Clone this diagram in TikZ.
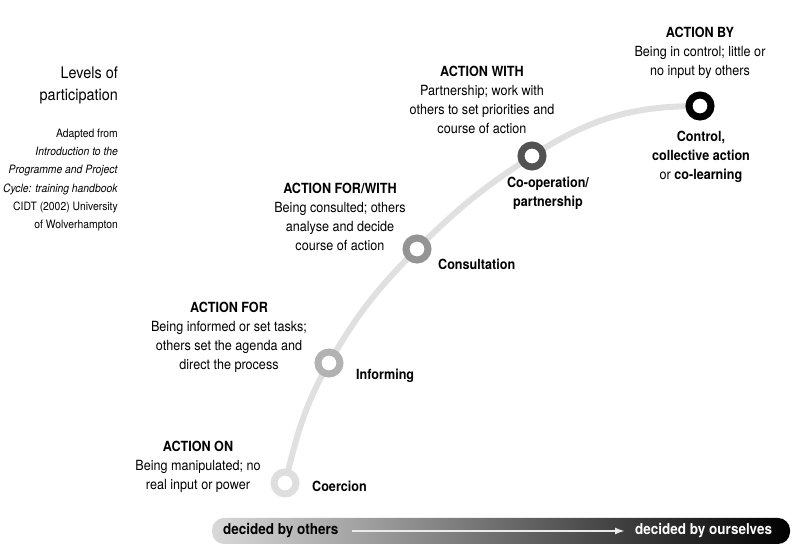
\documentclass[tikz,border=0pt]{standalone}
\usepackage{fontspec}
\setmainfont{TeX Gyre Heros}[FakeStretch=0.9]
\usetikzlibrary{arrows.meta, backgrounds}

\begin{document}
\begin{tikzpicture}[x=1pt, y=1pt,
    >=Latex,
    ring/.style={circle, draw=#1, line width=7pt, fill=white, minimum size=22pt, inner sep=0pt},
    track/.style={line width=6pt, black!12},
    lvl/.style={font=\fontsize{14}{19}\selectfont, align=center, inner sep=0pt},
    tag/.style={font=\fontsize{14}{19}\selectfont\bfseries, align=center, inner sep=0pt},
    bartxt/.style={font=\fontsize{15}{18}\selectfont\bfseries, inner sep=0pt}
  ]
  \useasboundingbox (0,0) rectangle (807,559);

  % the five steps of the ladder
  \node[ring=black!13] (coercion)     at (285,76)  {};
  \node[ring=black!30] (informing)    at (329,196) {};
  \node[ring=black!42] (consultation) at (417,310) {};
  \node[ring=black!68] (cooperation)  at (532,403) {};
  \node[ring=black]    (control)      at (700,453) {};

  \begin{scope}[on background layer]
    \draw[track] (coercion.center) to[out=76,in=240] (informing.center)
      to[out=60,in=225] (consultation.center)
      to[out=45,in=213] (cooperation.center)
      to[out=33,in=180] (control.center);
  \end{scope}

  % what each step means
  \node[lvl] (on)      at (198,92)  {\textbf{ACTION ON}\\Being manipulated; no\\real input or power};
  \node[lvl] (for)     at (229,222) {\textbf{ACTION FOR}\\Being informed or set tasks;\\others set the agenda and\\direct the process};
  \node[lvl] (forwith) at (340,342) {\textbf{ACTION FOR/WITH}\\Being consulted; others\\analyse and decide\\course of action};
  \node[lvl] (with)    at (482,459) {\textbf{ACTION WITH}\\Partnership; work with\\others to set priorities and\\course of action};
  \node[lvl] (by)      at (700,506) {\textbf{ACTION BY}\\Being in control; little or\\no input by others};

  % names of the steps
  \node[tag, anchor=west] (coercionlbl)     at (312,73)  {Coercion};
  \node[tag, anchor=west] (informinglbl)    at (356,183) {Informing};
  \node[tag, anchor=west] (consultationlbl) at (438,295) {Consultation};
  \node[tag]              (cooperationlbl)  at (548,366) {Co-operation/\\partnership};
  \node[tag]              (controllbl)      at (701,402) {Control,\\collective action\\{\mdseries or} co-learning};

  % title and source
  \node[font=\fontsize{16}{22}\selectfont, align=right, anchor=east, inner sep=0pt] (title) at (118,474) {Levels of\\participation};
  \node[font=\fontsize{11.5}{18.2}\selectfont, align=right, anchor=east, inner sep=0pt] (source) at (118,379)
    {Adapted from\\\textit{Introduction to the}\\\textit{Programme and Project}\\\textit{Cycle: training handbook}\\CIDT (2002) University\\of Wolverhampton};

  % scale bar
  \shade[left color=black!15, right color=black, rounded corners=12pt] (212,15) rectangle (790,41);
  \node[bartxt, anchor=west] (others) at (223,28) {decided by others};
  \node[bartxt, anchor=west, white] (ourselves) at (635,28) {decided by ourselves};
  \draw[-{Latex[length=10pt,width=7pt]}, line width=2pt, black!8] ([xshift=13pt]others.east) -- ([xshift=-10pt]ourselves.west);
\end{tikzpicture}
\end{document}
